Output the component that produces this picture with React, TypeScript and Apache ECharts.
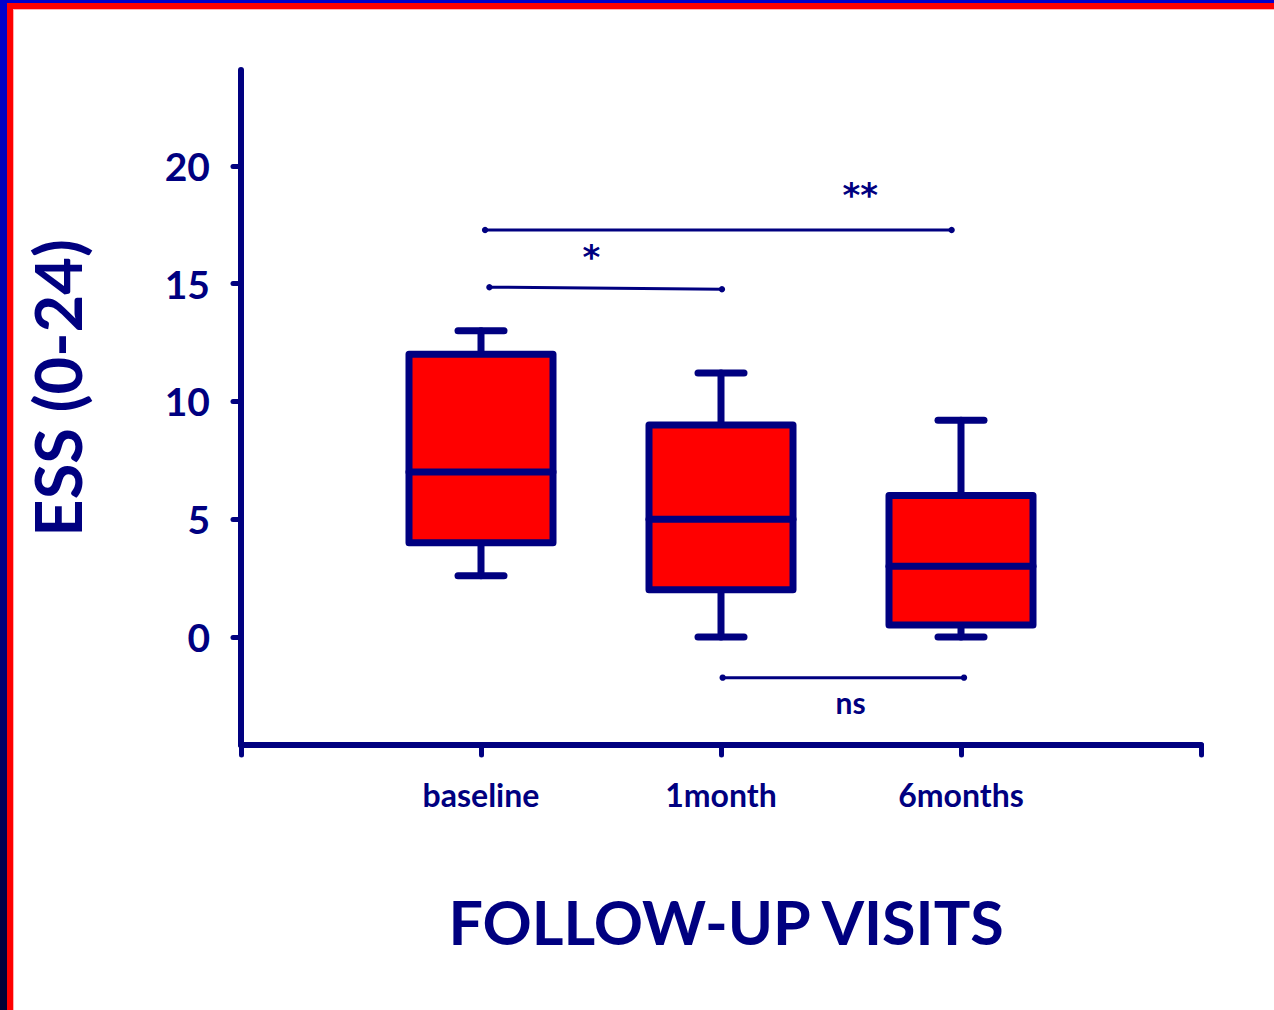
import React, { useEffect, useRef } from "react";
import * as echarts from "echarts";

// ---- data ----
const categories = ["baseline", "1month", "6months"];
const lowWhisker = [2.6, 0, 0];
const q1 = [4, 2, 0.5];
const median = [7, 5, 3];
const q3 = [12, 9, 6];
const highWhisker = [13, 11.2, 9.2];
const yTicks = [0, 5, 10, 15, 20];

// significance brackets (x in category positions 1..3, y in ESS units)
const bracketLabels = ["*", "**", "ns"];
const bracketX1 = [1.035, 1.017, 2.007];
const bracketY1 = [14.85, 17.28, -1.73];
const bracketX2 = [2.004, 2.961, 3.0125];
const bracketY2 = [14.76, 17.28, -1.73];
const labelX = [1.46, 2.58, 2.54];
const labelY = [16.12, 18.75, -2.76];

const NAVY = "#000080";
const FONT = "Lato, 'Noto Sans', sans-serif";
const STAR_FONT = "'DejaVu Sans', sans-serif";

export default function App() {
  const ref = useRef<HTMLDivElement>(null);

  useEffect(() => {
    if (!ref.current) return;
    const chart = echarts.init(ref.current, null, { renderer: "svg" });

    const boxData = categories.map((_, i) => [
      i + 1,
      lowWhisker[i],
      q1[i],
      median[i],
      q3[i],
      highWhisker[i],
    ]);
    const bracketData = bracketLabels.map((_, i) => [
      bracketX1[i],
      bracketY1[i],
      bracketX2[i],
      bracketY2[i],
    ]);
    const labelData = bracketLabels.map((t, i) => [labelX[i], labelY[i], t]);

    const BOX_W = 144;
    const CAP_HALF = 23;

    chart.setOption({
      animation: false,
      backgroundColor: "#ffffff",
      grid: { left: 241, right: 73, top: 70, bottom: 265, containLabel: false },
      xAxis: {
        type: "value",
        min: 0,
        max: 4,
        interval: 1,
        name: "FOLLOW-UP VISITS",
        nameLocation: "middle",
        nameGap: 146,
        nameTextStyle: {
          color: NAVY,
          fontFamily: FONT,
          fontWeight: "bold",
          fontSize: 61,
          padding: [0, 0, 0, 10],
        },
        axisLine: {
          onZero: false,
          lineStyle: { color: NAVY, width: 6, cap: "round" },
        },
        axisTick: {
          show: true,
          length: 10,
          lineStyle: { color: NAVY, width: 5, cap: "round" },
        },
        axisLabel: {
          color: NAVY,
          fontFamily: FONT,
          fontWeight: "bold",
          fontSize: 32,
          margin: 33,
          formatter: (v: number) => categories[v - 1] ?? "",
        },
        splitLine: { show: false },
      },
      yAxis: {
        type: "value",
        min: -4.59,
        max: 24.07,
        axisLine: {
          onZero: false,
          lineStyle: { color: NAVY, width: 6, cap: "round" },
        },
        axisTick: {
          show: true,
          length: 8,
          customValues: yTicks,
          lineStyle: { color: NAVY, width: 5, cap: "round" },
        },
        axisLabel: {
          color: NAVY,
          fontFamily: FONT,
          fontWeight: "bold",
          fontSize: 39,
          margin: 31,
          customValues: yTicks,
        },
        splitLine: { show: false },
      },
      graphic: [
        {
          type: "rect",
          shape: { x: 0, y: 0, width: 7, height: 1010 },
          style: {
            fill: new echarts.graphic.LinearGradient(0, 0, 0, 1, [
              { offset: 0, color: "#0000cc" },
              { offset: 0.45, color: "#000099" },
              { offset: 1, color: "#000033" },
            ]),
          },
          silent: true,
        },
        {
          type: "rect",
          shape: { x: 0, y: 0, width: 1274, height: 3 },
          style: { fill: "#0000cc" },
          silent: true,
        },
        {
          type: "rect",
          shape: { x: 7, y: 3, width: 1267, height: 6 },
          style: { fill: "#ff0000" },
          silent: true,
        },
        {
          type: "rect",
          shape: { x: 7, y: 3, width: 6, height: 1007 },
          style: { fill: "#ff0000" },
          silent: true,
        },
        {
          type: "rect",
          shape: { x: 13, y: 9, width: 1261, height: 1 },
          style: { fill: "#ffb0b0" },
          silent: true,
        },
        {
          type: "rect",
          shape: { x: 13, y: 9, width: 1, height: 1001 },
          style: { fill: "#ffb0b0" },
          silent: true,
        },
        {
          type: "text",
          x: 57,
          y: 388,
          rotation: Math.PI / 2,
          style: {
            text: "ESS (0-24)",
            fill: NAVY,
            font: `bold 65px ${FONT}`,
            align: "center",
            verticalAlign: "middle",
          },
        },
      ],
      series: [
        {
          type: "custom",
          name: "ESS",
          data: boxData,
          encode: { x: 0, y: [1, 2, 3, 4, 5] },
          renderItem: (params: any, api: any) => {
            const x = api.value(0);
            const pLow = api.coord([x, api.value(1)]);
            const pQ1 = api.coord([x, api.value(2)]);
            const pMed = api.coord([x, api.value(3)]);
            const pQ3 = api.coord([x, api.value(4)]);
            const pHigh = api.coord([x, api.value(5)]);
            const cx = pMed[0];
            const lineStyle = {
              stroke: NAVY,
              lineWidth: 7,
              lineCap: "round",
              lineJoin: "round",
            };
            return {
              type: "group",
              children: [
                {
                  type: "line",
                  shape: { x1: cx, y1: pQ3[1], x2: cx, y2: pHigh[1] },
                  style: lineStyle,
                },
                {
                  type: "line",
                  shape: { x1: cx, y1: pQ1[1], x2: cx, y2: pLow[1] },
                  style: lineStyle,
                },
                {
                  type: "line",
                  shape: {
                    x1: cx - CAP_HALF,
                    y1: pHigh[1],
                    x2: cx + CAP_HALF,
                    y2: pHigh[1],
                  },
                  style: lineStyle,
                },
                {
                  type: "line",
                  shape: {
                    x1: cx - CAP_HALF,
                    y1: pLow[1],
                    x2: cx + CAP_HALF,
                    y2: pLow[1],
                  },
                  style: lineStyle,
                },
                {
                  type: "rect",
                  shape: {
                    x: cx - BOX_W / 2,
                    y: pQ3[1],
                    width: BOX_W,
                    height: pQ1[1] - pQ3[1],
                  },
                  style: { ...lineStyle, fill: "#ff0000" },
                },
                {
                  type: "line",
                  shape: {
                    x1: cx - BOX_W / 2,
                    y1: pMed[1],
                    x2: cx + BOX_W / 2,
                    y2: pMed[1],
                  },
                  style: lineStyle,
                },
              ],
            };
          },
        },
        {
          type: "custom",
          name: "brackets",
          data: bracketData,
          encode: { x: [0, 2], y: [1, 3] },
          renderItem: (params: any, api: any) => {
            const a = api.coord([api.value(0), api.value(1)]);
            const b = api.coord([api.value(2), api.value(3)]);
            return {
              type: "group",
              children: [
                {
                  type: "line",
                  shape: { x1: a[0], y1: a[1], x2: b[0], y2: b[1] },
                  style: { stroke: NAVY, lineWidth: 3 },
                },
                {
                  type: "circle",
                  shape: { cx: a[0], cy: a[1], r: 3.2 },
                  style: { fill: NAVY },
                },
                {
                  type: "circle",
                  shape: { cx: b[0], cy: b[1], r: 3.2 },
                  style: { fill: NAVY },
                },
              ],
            };
          },
        },
        {
          type: "custom",
          name: "significance",
          data: labelData,
          encode: { x: 0, y: 1 },
          renderItem: (params: any, api: any) => {
            const p = api.coord([api.value(0), api.value(1)]);
            const t = labelData[params.dataIndex][2] as string;
            const isNs = t === "ns";
            return {
              type: "text",
              x: p[0],
              y: p[1],
              style: {
                text: t,
                fill: NAVY,
                font: isNs ? `bold 30px ${FONT}` : `bold 34px ${STAR_FONT}`,
                align: "center",
                verticalAlign: "middle",
              },
            };
          },
        },
      ],
    });

    return () => chart.dispose();
  }, []);

  return (
    <div
      ref={ref}
      style={{
        position: "absolute",
        left: 0,
        top: 0,
        width: 1274,
        height: 1010,
      }}
    />
  );
}
